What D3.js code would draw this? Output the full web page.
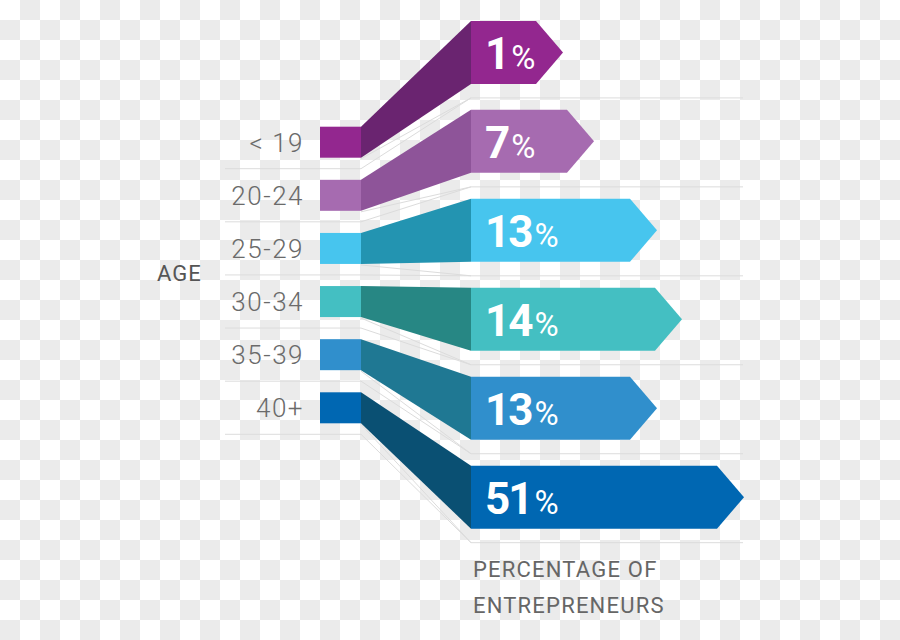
<!DOCTYPE html>
<html>
<head>
<meta charset="utf-8">
<script src="https://cdn.jsdelivr.net/npm/d3@7/dist/d3.min.js"></script>
<style>
  html, body { margin: 0; padding: 0; background: #fff; }
  svg { display: block; }
</style>
</head>
<body>
<svg id="chart" width="900" height="640"></svg>
<script>
// ---- data ----
const ageGroups = ["< 19", "20-24", "25-29", "30-34", "35-39", "40+"];
const shares = [1, 7, 13, 14, 13, 51];
const axisTitle = "AGE";
const valueTitle = ["PERCENTAGE OF", "ENTREPRENEURS"];

// ---- styles ----
const faceColors = ["#93278f", "#a66bb0", "#47c5ee", "#44bfc2", "#308fcc", "#0067b2"];
const sideColors = ["#6a2470", "#8e5499", "#2394b1", "#278784", "#1f7893", "#0a5073"];

const W = 900, H = 640;
const svg = d3.select("#chart");

// checkerboard background
const defs = svg.append("defs");
const pat = defs.append("pattern").attr("id", "checker")
  .attr("width", 40).attr("height", 40).attr("patternUnits", "userSpaceOnUse");
pat.append("rect").attr("width", 40).attr("height", 40).attr("fill", "#ffffff");
pat.append("rect").attr("x", 20).attr("y", 0).attr("width", 20).attr("height", 20).attr("fill", "#ebebeb");
pat.append("rect").attr("x", 0).attr("y", 20).attr("width", 20).attr("height", 20).attr("fill", "#ebebeb");
svg.append("rect").attr("width", W).attr("height", H).attr("fill", "url(#checker)");

// ---- layout ----
const boxX0 = 320, boxX1 = 361, barX0 = 471, gridRight = 743, gridLeft = 225;
const boxH = 31, barH = 63, tipW = 27;

const yBox = d3.scalePoint().domain(ageGroups).range([126.7, 392.3]);
const yBar = d3.scalePoint().domain(ageGroups).range([20.9, 465.7]);

// designer's non-linear bar length scale (value -> flat length from bar start)
const lenScale = d3.scaleLinear()
  .domain([1, 7, 13, 14, 51])
  .range([65, 96, 159, 184, 246]);

const rows = ageGroups.map((g, i) => ({
  group: g, value: shares[i], face: faceColors[i], side: sideColors[i],
  by: yBox(g), ty: yBar(g)
}));

// guide lines
const guides = svg.append("g").attr("fill", "none").attr("stroke", "#dcdcdc").attr("stroke-width", 1);
rows.forEach(r => {
  const ly = r.by + boxH + 11;
  const ry = r.ty + barH + 14;
  guides.append("path")
    .attr("d", d3.line()([[gridLeft, ly], [boxX1, ly], [barX0, ry], [gridRight, ry]]));
  guides.append("path")
    .attr("d", d3.line()([[boxX1, r.by + boxH + 1], [barX0, ry]]));
});

// left boxes
svg.append("g").selectAll("rect").data(rows).join("rect")
  .attr("x", boxX0).attr("y", d => d.by)
  .attr("width", boxX1 - boxX0).attr("height", boxH)
  .attr("fill", d => d.face);

// connectors
svg.append("g").selectAll("path").data(rows).join("path")
  .attr("d", d => d3.line()([[boxX1, d.by], [barX0, d.ty], [barX0, d.ty + barH], [boxX1, d.by + boxH]]) + "Z")
  .attr("fill", d => d.side);

// bars (arrow shaped)
svg.append("g").selectAll("path").data(rows).join("path")
  .attr("d", d => {
    const x1 = barX0 + lenScale(d.value);
    return d3.line()([[barX0, d.ty], [x1, d.ty], [x1 + tipW, d.ty + barH / 2], [x1, d.ty + barH], [barX0, d.ty + barH]]) + "Z";
  })
  .attr("fill", d => d.face);

// value labels
const vl = svg.append("g").selectAll("text").data(rows).join("text")
  .attr("x", barX0 + 14)
  .attr("y", d => d.ty + barH / 2 + 16.5)
  .attr("fill", "#ffffff")
  .attr("font-family", "Roboto, 'Open Sans', sans-serif");
vl.append("tspan").text(d => d.value)
  .style("font-size", "44px").style("font-weight", 700).style("letter-spacing", "-2px");
vl.append("tspan").text("%")
  .attr("dx", 3)
  .style("font-size", "33px").style("font-weight", 400).style("letter-spacing", "0px");

// age labels
svg.append("g").selectAll("text").data(rows).join("text")
  .attr("x", 304)
  .attr("y", d => d.by + boxH / 2 + 9.5)
  .attr("text-anchor", "end")
  .attr("fill", "#6a6a6a")
  .attr("font-family", "Roboto, sans-serif")
  .attr("font-weight", 300)
  .attr("font-size", 26)
  .attr("letter-spacing", 1.5)
  .text(d => d.group);

// axis titles
svg.append("text")
  .attr("x", 157).attr("y", 281)
  .attr("fill", "#555555")
  .attr("font-family", "Roboto, sans-serif")
  .attr("font-size", 22).attr("letter-spacing", 1)
  .text(axisTitle);

svg.append("g").selectAll("text").data(valueTitle).join("text")
  .attr("x", 473)
  .attr("y", (d, i) => 577 + i * 36)
  .attr("fill", "#666666")
  .attr("font-family", "Roboto, sans-serif")
  .attr("font-size", 22).attr("letter-spacing", 1.2)
  .text(d => d);
</script>
</body>
</html>
